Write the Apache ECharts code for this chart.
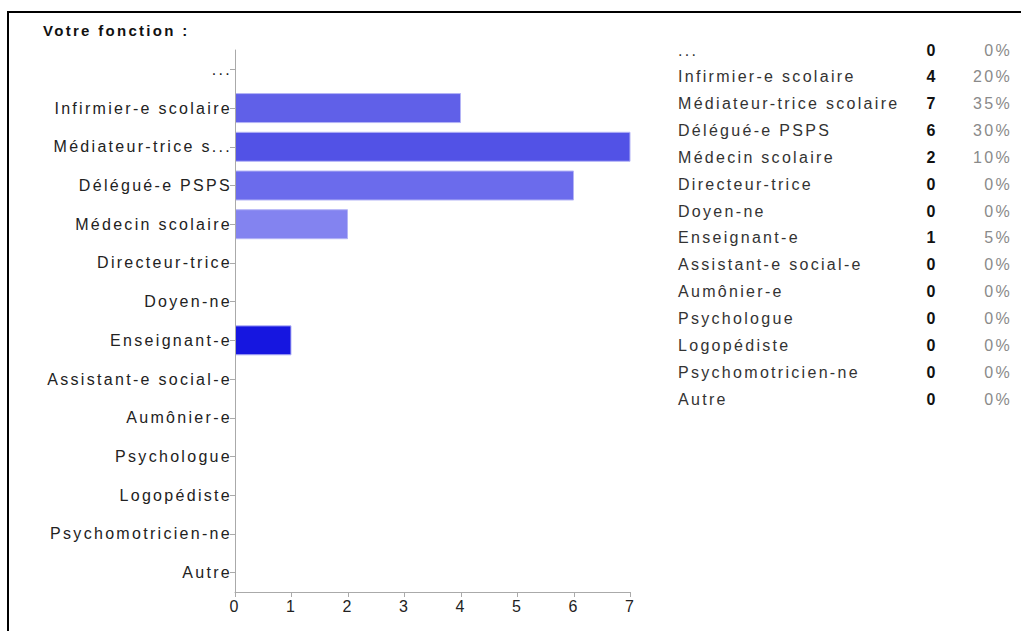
<!DOCTYPE html>
<html>
<head>
<meta charset="utf-8">
<script src="https://cdn.jsdelivr.net/npm/echarts@6/dist/echarts.min.js"></script>
<style>
html,body{margin:0;padding:0;background:#fff;}
#chart{width:1021px;height:631px;}
#chart svg text{letter-spacing:2.3px;}
</style>
</head>
<body>
<div id="chart"></div>
<script>
const title = 'Votre fonction :';
const categories = ['...', 'Infirmier-e scolaire', 'Médiateur-trice scolaire', 'Délégué-e PSPS', 'Médecin scolaire', 'Directeur-trice', 'Doyen-ne', 'Enseignant-e', 'Assistant-e social-e', 'Aumônier-e', 'Psychologue', 'Logopédiste', 'Psychomotricien-ne', 'Autre'];
const counts = [0, 4, 7, 6, 2, 0, 0, 1, 0, 0, 0, 0, 0, 0];
const xTicks = [0, 1, 2, 3, 4, 5, 6, 7];
const barColors = ['#6060e8', '#6060e8', '#5252e6', '#6b6bec', '#8383f0', '#6060e8', '#6060e8', '#1616e0', '#6060e8', '#6060e8', '#6060e8', '#6060e8', '#6060e8', '#6060e8'];

const total = counts.reduce((a, b) => a + b, 0);
const FONT = '"Liberation Sans", Arial, sans-serif';

const graphics = [
  {type: 'line', shape: {x1: 8, y1: 12, x2: 1021, y2: 12}, style: {stroke: '#000', lineWidth: 2}},
  {type: 'line', shape: {x1: 8, y1: 11, x2: 8, y2: 631}, style: {stroke: '#000', lineWidth: 2}},
  {type: 'text', x: 43, y: 30, style: {text: title, font: 'bold 15px ' + FONT, fill: '#111', textVerticalAlign: 'middle'}}
];
categories.forEach((c, i) => {
  const y = 50 + 26.85 * i;
  graphics.push({type: 'text', x: 678, y: y, style: {text: c, font: '16px ' + FONT, fill: '#333', textVerticalAlign: 'middle', textAlign: 'left'}});
  graphics.push({type: 'text', x: 932, y: y, style: {text: String(counts[i]), font: 'bold 16px ' + FONT, fill: '#111', textVerticalAlign: 'middle', textAlign: 'center'}});
  graphics.push({type: 'text', x: 1012, y: y, style: {text: Math.round(counts[i] / total * 100) + '%', font: '16px ' + FONT, fill: '#8a8a8a', textVerticalAlign: 'middle', textAlign: 'right'}});
});

const chart = echarts.init(document.getElementById('chart'), null, {renderer: 'svg'});
chart.setOption({
  animation: false,
  backgroundColor: '#fff',
  grid: {left: 235, top: 50, width: 395.5, height: 542, containLabel: false},
  xAxis: {
    type: 'value', min: xTicks[0], max: xTicks[xTicks.length - 1], interval: 1,
    axisLine: {show: true, lineStyle: {color: '#aaaaaa', width: 1}},
    axisTick: {show: true, length: 5, lineStyle: {color: '#aaaaaa'}},
    axisLabel: {fontSize: 16, fontFamily: FONT, color: '#222', margin: 6},
    splitLine: {show: false}
  },
  yAxis: {
    type: 'category', data: categories, inverse: true, z: 5,
    axisLine: {show: true, lineStyle: {color: '#aaaaaa', width: 1}},
    axisTick: {show: true, alignWithLabel: true, length: 5, lineStyle: {color: '#aaaaaa'}},
    axisLabel: {fontSize: 16, fontFamily: FONT, color: '#222', margin: 3,
      formatter: v => v.length > 20 ? v.slice(0, 17) + '...' : v}
  },
  series: [{
    type: 'bar', barWidth: 30,
    data: counts.map((v, i) => ({value: v, itemStyle: {color: barColors[i], borderColor: '#b4b4f6', borderWidth: v > 0 ? 1 : 0}})),
    silent: true
  }],
  graphic: graphics
});
</script>
</body>
</html>
